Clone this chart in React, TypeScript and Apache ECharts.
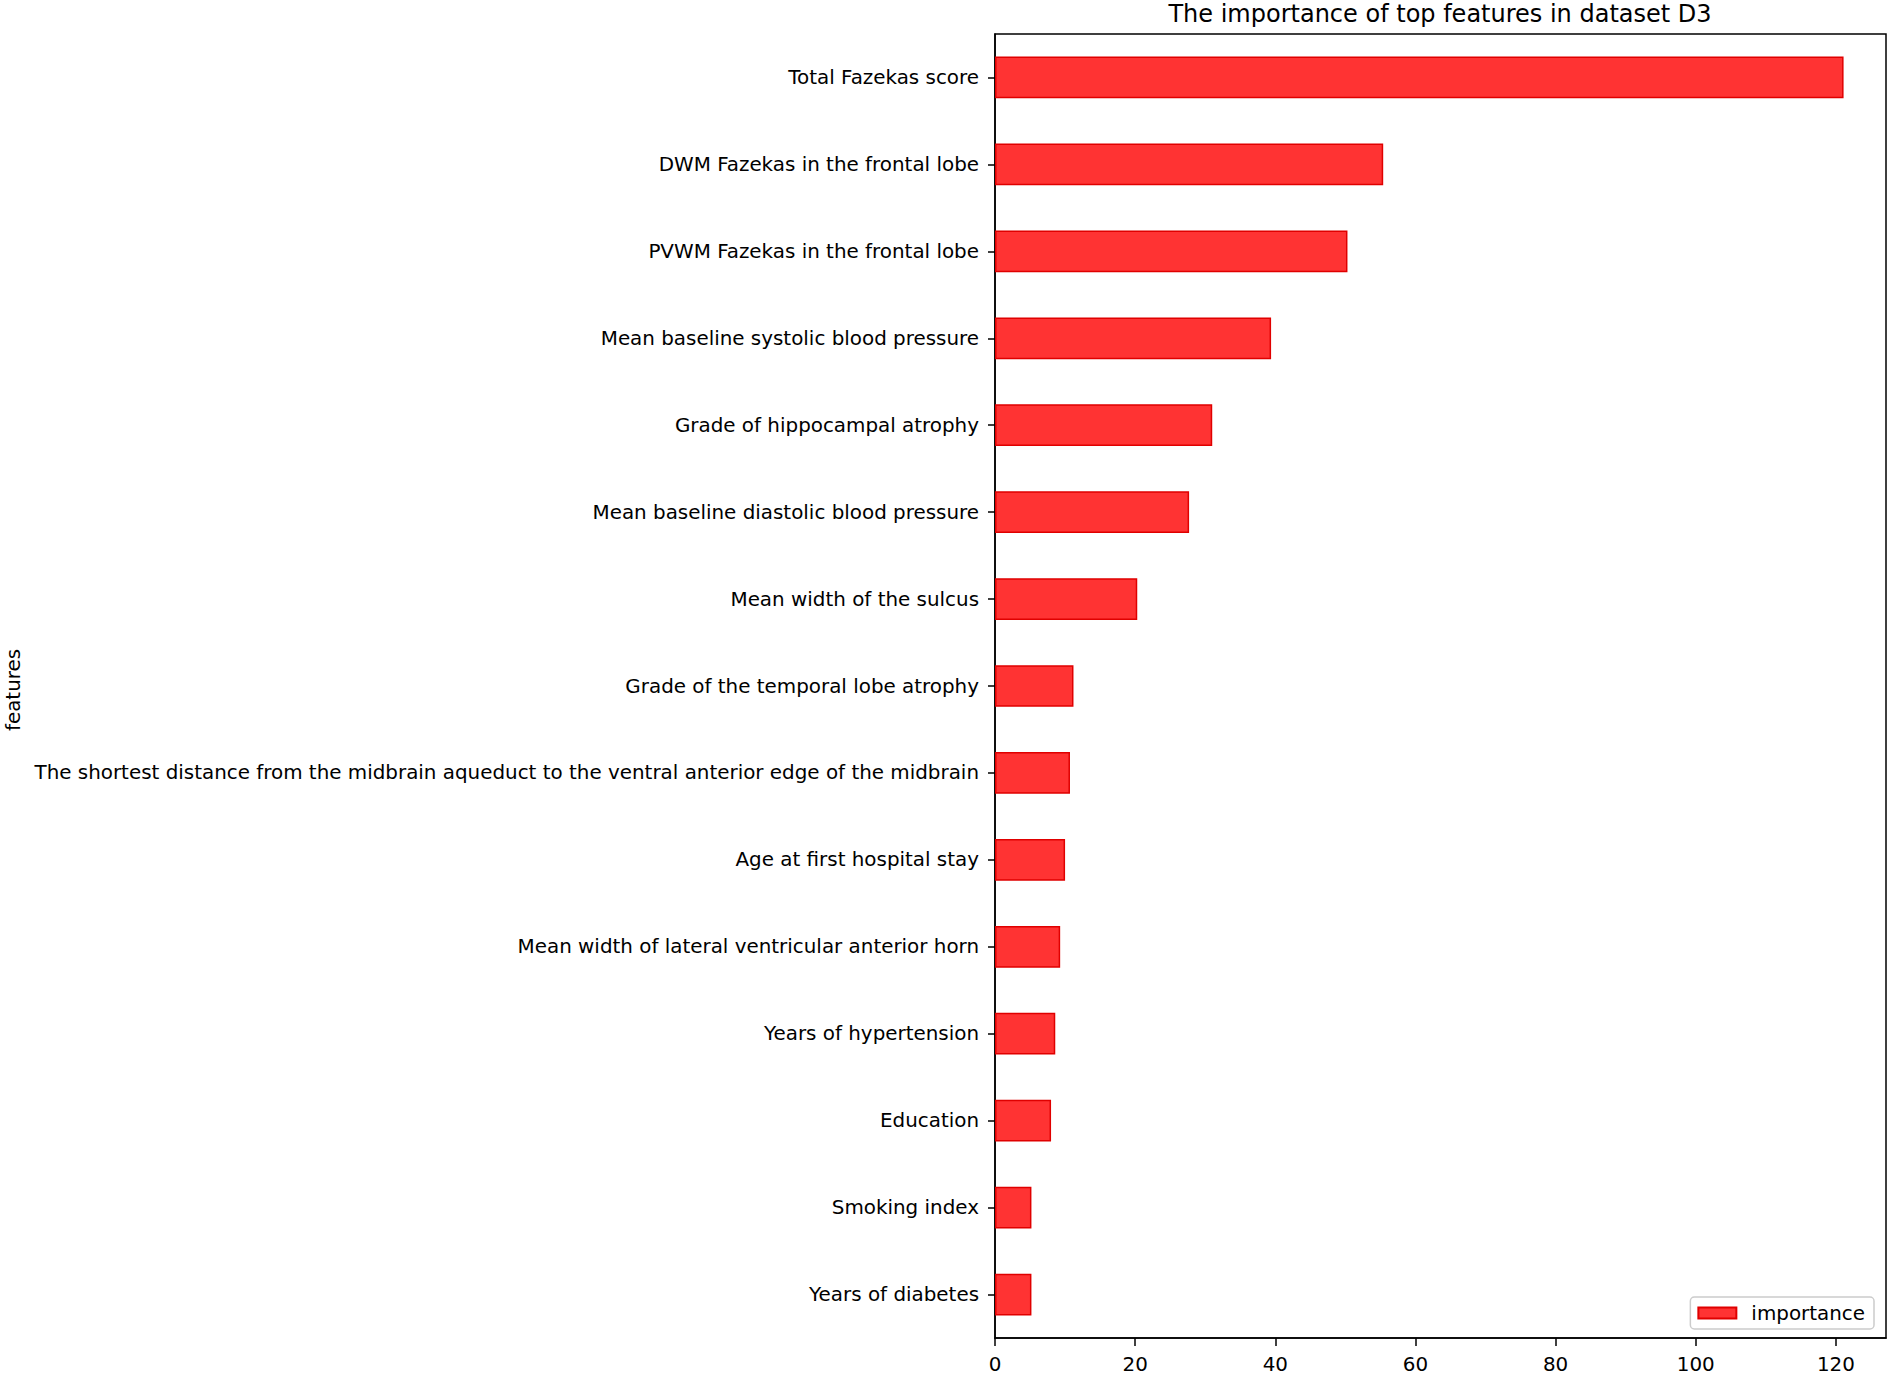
import React, { useEffect, useRef } from "react";
import * as echarts from "echarts";

const features = [
  "Total Fazekas score",
  "DWM Fazekas in the frontal lobe",
  "PVWM Fazekas in the frontal lobe",
  "Mean baseline systolic blood pressure",
  "Grade of hippocampal atrophy",
  "Mean baseline diastolic blood pressure",
  "Mean width of the sulcus",
  "Grade of the temporal lobe atrophy",
  "The shortest distance from the midbrain aqueduct to the ventral anterior edge of the midbrain",
  "Age at first hospital stay",
  "Mean width of lateral ventricular anterior horn",
  "Years of hypertension",
  "Education",
  "Smoking index",
  "Years of diabetes",
];

const importance = [121.1, 55.4, 50.3, 39.4, 31.0, 27.7, 20.3, 11.2, 10.7, 10.0, 9.3, 8.6, 8.0, 5.2, 5.2];

const xTicks = [0, 20, 40, 60, 80, 100, 120];

const FONT = "'DejaVu Sans', sans-serif";

export default function App() {
  const ref = useRef<HTMLDivElement>(null);
  useEffect(() => {
    if (!ref.current) return;
    const chart = echarts.init(ref.current, null, { renderer: "svg" });
    const xMax = Math.max(...importance) * 1.05;
    chart.setOption({
      animation: false,
      backgroundColor: "#ffffff",
      textStyle: { fontFamily: FONT, color: "#000" },
      title: {
        text: "The importance of top features in dataset D3",
        left: 1440,
        textAlign: "center",
        top: 2,
        padding: 0,
        textStyle: { fontFamily: FONT, fontSize: 24, fontWeight: "normal", color: "#000" },
      },
      grid: {
        left: 995,
        right: 4,
        top: 34,
        bottom: 35,
        show: true,
        borderColor: "#000",
        borderWidth: 1.5,
        containLabel: false,
      },
      legend: {
        data: ["importance"],
        right: 16,
        bottom: 45,
        orient: "vertical",
        padding: [6, 9, 6, 7],
        itemWidth: 38,
        itemHeight: 11,
        itemGap: 0,
        backgroundColor: "rgba(255,255,255,0.8)",
        borderColor: "#cccccc",
        borderWidth: 1.5,
        borderRadius: 4,
        icon: "rect",
        textStyle: { fontFamily: FONT, fontSize: 19.9, color: "#000", padding: [0, 0, 0, 10] },
      },
      xAxis: {
        type: "value",
        min: 0,
        max: xMax,
        interval: 20,
        splitLine: { show: false },
        axisLine: { show: true, lineStyle: { color: "#000", width: 1.5 } },
        axisTick: { show: true, length: 8, lineStyle: { color: "#000", width: 1.5 }, customValues: xTicks },
        axisLabel: { fontFamily: FONT, fontSize: 19.9, color: "#000", margin: 16, customValues: xTicks },
      },
      yAxis: {
        type: "category",
        inverse: true,
        data: features,
        axisLine: { show: true, lineStyle: { color: "#000", width: 1.5 } },
        axisTick: { show: true, length: 7, alignWithLabel: true, lineStyle: { color: "#000", width: 1.5 } },
        axisLabel: { fontFamily: FONT, fontSize: 19.9, color: "#000", margin: 16, interval: 0 },
      },
      graphic: [
        {
          type: "text",
          x: 13,
          y: 690,
          rotation: Math.PI / 2,
          style: {
            text: "features",
            fontFamily: FONT,
            fontSize: 19.9,
            fill: "#000",
            align: "center",
            verticalAlign: "middle",
          },
        },
      ],
      series: [
        {
          name: "importance",
          type: "bar",
          data: importance,
          barWidth: "48%",
          itemStyle: { color: "#ff3333", borderColor: "#e00000", borderWidth: 1.5 },
        },
      ],
    });
    return () => chart.dispose();
  }, []);
  return (
    <div
      ref={ref}
      style={{ position: "fixed", left: 0, top: 0, width: 1890, height: 1374 }}
    />
  );
}
